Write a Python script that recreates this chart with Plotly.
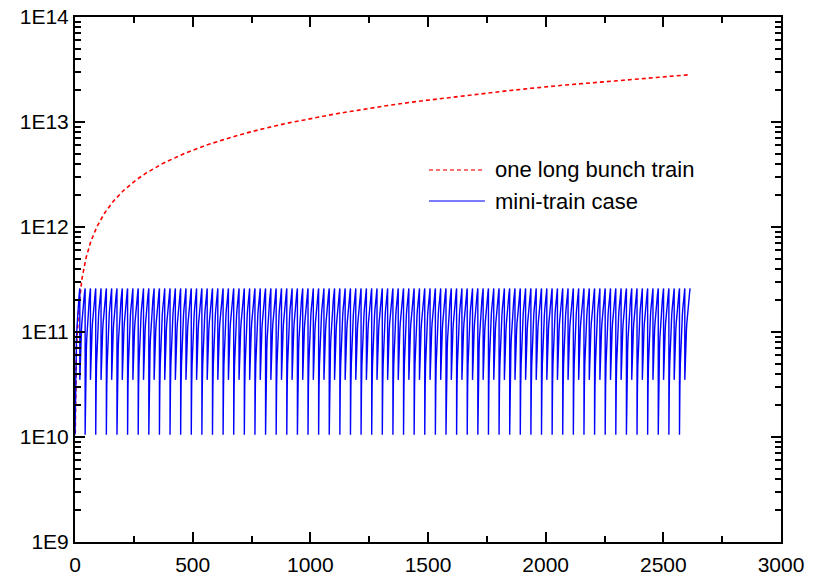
import numpy as np
import plotly.graph_objects as go

# ---- data -------------------------------------------------------------
# Long bunch train: ion density grows by a fixed amount with every bunch
ions_per_bunch = 1.08e10
long_train_last_bunch = 2607

# Mini-train case: each mini-train builds up to the same peak, then a gap
# clears the ions down to a residual level; short and long gaps alternate.
first_train_end = 20.5
train_spacing = 22.55
n_trains = 116
train_peak = 2.6e11
initial_level = 1.05e10
gap_residual = [3.5e10, 1.05e10]   # after short gap, after long gap

x_ticks = [0, 500, 1000, 1500, 2000, 2500, 3000]
x_minor = [250, 750, 1250, 1750, 2250, 2750]
y_ticks = [1e9, 1e10, 1e11, 1e12, 1e13, 1e14]
y_ticktext = ["1E9", "1E10", "1E11", "1E12", "1E13", "1E14"]
legend_names = ["one long bunch train", "mini-train case"]

# ---- series -----------------------------------------------------------
bunch = np.arange(1, long_train_last_bunch + 1)
long_train = ions_per_bunch * bunch

mx, my = [], []
start_x, start_y = 0.0, initial_level
for j in range(n_trains):
    end_x = first_train_end + train_spacing * j
    xs = np.linspace(start_x, end_x, 14)
    ys = start_y + (train_peak - start_y) * (xs - start_x) / (end_x - start_x)
    mx.extend(xs.tolist())
    my.extend(ys.tolist())
    start_x, start_y = end_x, gap_residual[j % 2]

# ---- figure -----------------------------------------------------------
fig = go.Figure()
fig.add_trace(go.Scatter(x=bunch, y=long_train, mode="lines",
                         line=dict(color="#ff0000", width=1.6, dash="4px,3px"),
                         name=legend_names[0]))
fig.add_trace(go.Scatter(x=mx, y=my, mode="lines",
                         line=dict(color="#0000ff", width=1.4),
                         name=legend_names[1]))

axis_common = dict(showline=True, linewidth=2, linecolor="black",
                   mirror="allticks", ticks="inside", tickwidth=2,
                   tickcolor="black", ticklen=10, showgrid=False,
                   zeroline=False, automargin=False,
                   tickfont=dict(size=21))

fig.update_xaxes(range=[0, 3000], tickmode="array", tickvals=x_ticks,
                 ticklabelstandoff=3,
                 minor=dict(tickmode="array", tickvals=x_minor, ticks="inside",
                            ticklen=6, tickwidth=2, tickcolor="black",
                            showgrid=False),
                 **axis_common)

y_minor = [m * 10 ** e for e in range(9, 14) for m in range(2, 10)]
fig.update_yaxes(type="log", range=[9, 14], tickmode="array",
                 tickvals=y_ticks, ticktext=y_ticktext,
                 minor=dict(tickmode="array", tickvals=y_minor, ticks="inside",
                            ticklen=6, tickwidth=2, tickcolor="black",
                            showgrid=False),
                 **axis_common)

# hand-placed legend inside the plot area
legend_rows = [(0.7086, "#ff4040", "4px,3px", legend_names[0]),
               (0.6495, "#5050ff", "solid", legend_names[1])]
for ypos, color, dash, label in legend_rows:
    fig.add_shape(type="line", xref="paper", yref="paper",
                  x0=0.5014, x1=0.5807, y0=ypos, y1=ypos,
                  line=dict(color=color, width=1.5, dash=dash))
    fig.add_annotation(xref="paper", yref="paper", x=0.5917, y=ypos,
                       xanchor="left", yanchor="middle", text=label,
                       showarrow=False,
                       font=dict(size=22, color="black",
                                 family="Liberation Sans, Arial, sans-serif"))

fig.update_layout(width=817, height=575,
                  margin=dict(l=75, r=36, t=17, b=33),
                  plot_bgcolor="white", paper_bgcolor="white",
                  showlegend=False,
                  font=dict(family="Liberation Sans, Arial, sans-serif",
                            size=20, color="black"))

fig.write_html("out.html")
